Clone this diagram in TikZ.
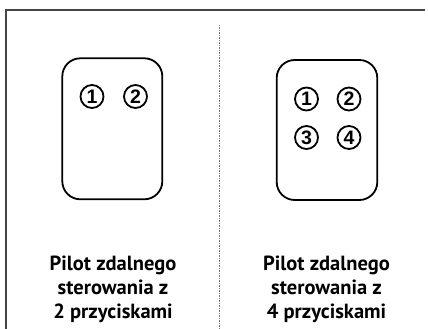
\documentclass[tikz,border=0pt]{standalone}
\usepackage{fontspec}
\setmainfont{PT Sans}
\newfontfamily\digitfont{Liberation Sans}
\definecolor{framegray}{HTML}{444444}
\definecolor{dotgray}{HTML}{777777}
\begin{document}
\begin{tikzpicture}[x=1pt,y=-1pt,
  remote/.style={draw=black,line width=1.8pt,rounded corners=18pt},
  btn/.style={circle,draw=black,line width=1.8pt,minimum size=23pt,inner sep=0pt,
    font=\digitfont\bfseries\fontsize{19.5}{19.5}\selectfont},
  caption/.style={anchor=base,inner sep=0pt,font=\bfseries\fontsize{20.5}{24}\selectfont},
  frameline/.style={draw=framegray,line width=1.2pt},
  divider/.style={draw=dotgray,line width=0.8pt,dash pattern=on 1.5pt off 1pt}]
\useasboundingbox (0,0) rectangle (428,329);
% frame
\coordinate (fbl) at (6,329);
\coordinate (ftl) at (6,10);
\coordinate (ftr) at (425,10);
\draw[frameline] (fbl) -- (ftl) -- (ftr);
% divider
\coordinate (dtop) at (219,25);
\coordinate (dbot) at (219,329);
\draw[divider] (dtop) -- (dbot);
% left remote
\coordinate (la) at (62.3,58.3);
\coordinate (lb) at (162.3,199.3);
\draw[remote] (la) rectangle (lb);
\node[btn] (l1) at (92,96.5) {1};
\node[btn] (l2) at (135.5,96.5) {2};
% right remote
\coordinate (ra) at (276.7,60);
\coordinate (rb) at (377.3,200);
\draw[remote] (ra) rectangle (rb);
\node[btn] (r1) at (306.5,99) {1};
\node[btn] (r2) at (349,99) {2};
\node[btn] (r3) at (306.5,137.5) {3};
\node[btn] (r4) at (349,137.5) {4};
% captions
\node[caption] (lt1) at (113,270) {Pilot zdalnego};
\node[caption] (lt2) at (113,294) {sterowania z};
\node[caption] (lt3) at (113,318) {2 przyciskami};
\node[caption] (rt1) at (326.5,270) {Pilot zdalnego};
\node[caption] (rt2) at (326.5,294) {sterowania z};
\node[caption] (rt3) at (326.5,318) {4 przyciskami};
\end{tikzpicture}
\end{document}
